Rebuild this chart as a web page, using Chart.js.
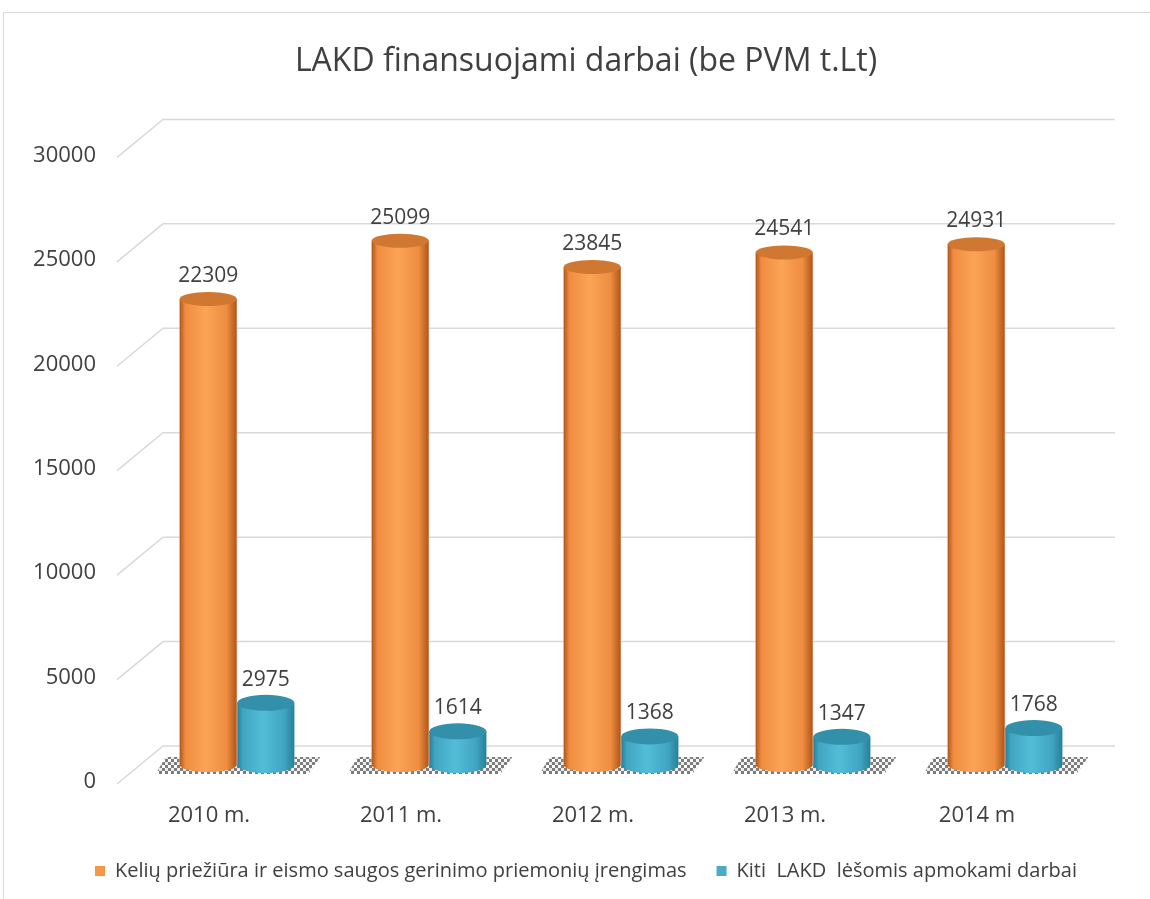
<!DOCTYPE html>
<html>
<head>
<meta charset="utf-8">
<script src="https://cdn.jsdelivr.net/npm/chart.js@4"></script>
<style>
  html, body { margin: 0; padding: 0; background: #fff; }
  #wrap { position: absolute; left: 0; top: 0; width: 1150px; height: 899px; overflow: hidden; }
  #frame { position: absolute; left: 3px; top: 12px; width: 1170px; height: 920px; border: 1px solid #d9d9d9; }
  canvas { position: absolute; left: 0; top: 0; }
</style>
</head>
<body>
<div id="wrap">
  <div id="frame"></div>
  <canvas id="grafico" width="1150" height="899"></canvas>
</div>
<script>
const metai = ['2010 m.', '2011 m.', '2012 m.', '2013 m.', '2014 m']
const keliai = [22309, 25099, 23845, 24541, 24931]
const kiti = [2975, 1614, 1368, 1347, 1768]
const yMax = 30000
const yZingsnis = 5000

const spalvos = {
  oranzine: { base: '#f79646', tamsi: '#b0561c', vidur: '#ef8d40', sviesi: '#fba456', virsus: '#d07732' },
  melyna: { base: '#4bacc6', tamsi: '#26809b', vidur: '#40a5c1', sviesi: '#53bdd7', virsus: '#3390ab' }
}
const tekstas = '#404040'
const sriftas = '"Open Sans", sans-serif'

// checkered floor shadow
function seselioRastas(ctx) {
  const c = document.createElement('canvas')
  c.width = 6; c.height = 6
  const g = c.getContext('2d')
  g.fillStyle = 'rgba(0,0,0,0.85)'
  g.fillRect(0, 0, 3, 3)
  g.fillRect(3, 3, 3, 3)
  g.fillStyle = 'rgba(150,150,150,0.3)'
  g.fillRect(3, 0, 3, 3)
  return ctx.createPattern(c, 'repeat')
}

const perspektyva = {
  id: 'perspektyva',
  beforeDatasetsDraw(chart) {
    const { ctx, chartArea, scales } = chart
    const y = scales.y
    ctx.save()
    ctx.strokeStyle = '#d9d9d9'
    ctx.lineWidth = 1.5
    for (let v = 0; v <= yMax; v += yZingsnis) {
      const p = y.getPixelForValue(v)
      ctx.beginPath()
      ctx.moveTo(chartArea.left - 24, p + 19)
      ctx.lineTo(chartArea.left + 22, p - 19)
      ctx.lineTo(chartArea.right + 14, p - 19)
      ctx.stroke()
    }
    // floor shadows
    const a = chart.getDatasetMeta(0).data
    const b = chart.getDatasetMeta(1).data
    ctx.fillStyle = seselioRastas(ctx)
    ctx.globalAlpha = 0.6
    a.forEach((el, i) => {
      const kaire = el.x - el.width / 2 - 24
      const desine = b[i].x + b[i].width / 2 + 14
      const base = el.base
      ctx.beginPath()
      ctx.moveTo(kaire, base + 9)
      ctx.lineTo(kaire + 10, base - 8)
      ctx.lineTo(desine + 12, base - 8)
      ctx.lineTo(desine, base + 9)
      ctx.closePath()
      ctx.fill()
    })
    ctx.restore()
  },
  afterDatasetsDraw(chart) {
    const { ctx } = chart
    chart.data.datasets.forEach((ds, di) => {
      const sp = di === 0 ? spalvos.oranzine : spalvos.melyna
      const ry = di === 0 ? 7 : 8
      chart.getDatasetMeta(di).data.forEach((el, i) => {
        const w = el.width
        const l = el.x - w / 2
        const r = el.x + w / 2
        const top = el.y
        const base = el.base
        const grad = ctx.createLinearGradient(l, 0, r, 0)
        grad.addColorStop(0, sp.tamsi)
        grad.addColorStop(0.1, sp.vidur)
        grad.addColorStop(0.45, sp.sviesi)
        grad.addColorStop(0.82, sp.vidur)
        grad.addColorStop(1, sp.tamsi)
        ctx.save()
        ctx.fillStyle = '#fff'
        ctx.fillRect(l, top, w, base - top)
        ctx.fillStyle = grad
        ctx.beginPath()
        ctx.moveTo(l, top)
        ctx.lineTo(l, base)
        ctx.ellipse(el.x, base, w / 2, ry, 0, Math.PI, 0, true)
        ctx.lineTo(r, top)
        ctx.closePath()
        ctx.fill()
        ctx.fillStyle = sp.virsus
        ctx.beginPath()
        ctx.ellipse(el.x, top, w / 2, ry, 0, 0, Math.PI * 2)
        ctx.fill()
        ctx.fillStyle = tekstas
        ctx.font = '21px ' + sriftas
        ctx.textAlign = 'center'
        ctx.textBaseline = 'middle'
        ctx.fillText(ds.data[i], el.x, top - 23)
        ctx.restore()
      })
    })
  }
}

new Chart(document.getElementById('grafico'), {
  type: 'bar',
  data: {
    labels: metai,
    datasets: [
      { label: 'Kelių priežiūra ir eismo saugos gerinimo priemonių įrengimas', data: keliai, backgroundColor: spalvos.oranzine.base },
      { label: 'Kiti  LAKD  lėšomis apmokami darbai', data: kiti, backgroundColor: spalvos.melyna.base }
    ]
  },
  options: {
    responsive: false,
    animation: false,
    categoryPercentage: 0.6,
    barPercentage: 0.99,
    layout: { padding: { left: 0, right: -22, top: 0, bottom: 8 } },
    plugins: {
      title: {
        display: true,
        text: 'LAKD finansuojami darbai (be PVM t.Lt)',
        color: tekstas,
        font: { family: sriftas, size: 32, weight: 'normal' },
        padding: { top: 43, bottom: 57 }
      },
      legend: {
        position: 'bottom',
        labels: {
          color: tekstas,
          font: { family: sriftas, size: 20 },
          boxWidth: 10,
          boxHeight: 10,
          padding: 30
        }
      },
      tooltip: { enabled: false }
    },
    scales: {
      x: {
        grid: { display: false },
        border: { display: false },
        ticks: { color: tekstas, font: { family: sriftas, size: 22 }, padding: 30, labelOffset: -28 },
        afterFit(s) { s.height = 66 }
      },
      y: {
        min: 0,
        max: yMax,
        grid: { display: false, drawTicks: false },
        border: { display: false },
        ticks: {
          stepSize: yZingsnis,
          color: tekstas,
          font: { family: sriftas, size: 22 },
          padding: 45,
          labelOffset: 17,
          callback: v => String(v)
        },
        afterFit(s) { s.width = 141 }
      },
      tarpas: {
        position: 'right',
        grid: { display: false, drawTicks: false },
        border: { display: false },
        ticks: { display: false },
        afterFit(s) { s.width = 71 }
      }
    }
  },
  plugins: [perspektyva]
})
</script>
</body>
</html>
